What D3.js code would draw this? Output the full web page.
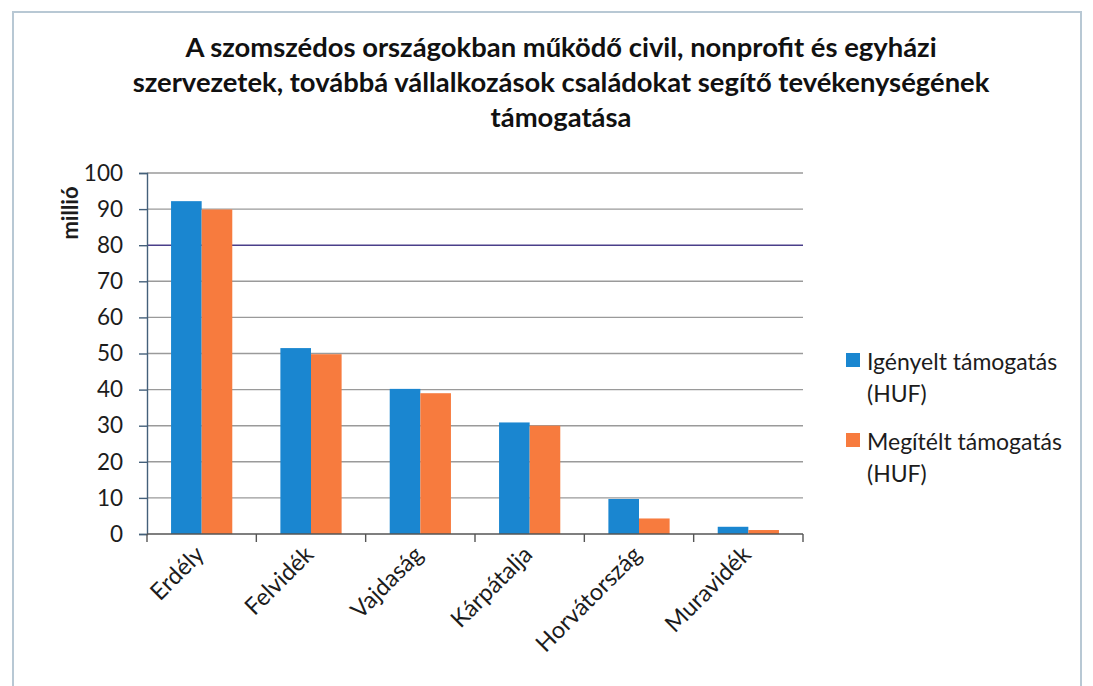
<!DOCTYPE html>
<html><head><meta charset="utf-8">
<script src="https://cdn.jsdelivr.net/npm/d3@7"></script>
<style>body{margin:0;background:#fff}svg{display:block}</style>
</head><body>
<script>
const categories = ["Erdély","Felvidék","Vajdaság","Kárpátalja","Horvátország","Muravidék"];
const igenyelt = [92.2, 51.5, 40.2, 30.9, 9.7, 2.0];
const megitelt = [89.9, 49.8, 39.0, 30.0, 4.3, 1.1];
const seriesNames = ["Igényelt támogatás", "Megítélt támogatás"];
const yTicks = [0,10,20,30,40,50,60,70,80,90,100];
const titleLines = ["A szomszédos országokban működő civil, nonprofit és egyházi","szervezetek, továbbá vállalkozások családokat segítő tevékenységének","támogatása"];

const W=1093,H=686;
const svg=d3.select("body").append("svg").attr("width",W).attr("height",H);
svg.append("rect").attr("x",13).attr("y",12).attr("width",1068).attr("height",700)
  .attr("fill","#fff").attr("stroke","#b8c8d4").attr("stroke-width",2);

const font="Lato, 'Open Sans', sans-serif";
const ink="#1c1c1c";
const colors=["#1a86d0","#f77b3e"];
const m={l:147,r:803,t:173,b:534};
const x=d3.scaleBand().domain(categories).range([m.l,m.r]).paddingInner(0.44).paddingOuter(0.22);
const x1=d3.scaleBand().domain([0,1]).range([0,x.bandwidth()]);
const y=d3.scaleLinear().domain([0,100]).range([m.b,m.t]);

// title
svg.append("g").selectAll("text").data(titleLines).join("text")
  .attr("x",561).attr("y",(d,i)=>57+i*35).attr("text-anchor","middle")
  .attr("font-family",font).attr("font-weight","bold").attr("font-size",27.4).attr("fill","#111").text(d=>d);

// gridlines
svg.append("g").selectAll("line").data(yTicks.filter(d=>d>0)).join("line")
  .attr("x1",m.l).attr("x2",m.r).attr("y1",d=>y(d)).attr("y2",d=>y(d))
  .attr("stroke",d=>d===80?"#4a3f8a":"#9a9a9a").attr("stroke-width",1.4);

// y axis
const ya=svg.append("g").attr("transform",`translate(${m.l},0)`)
  .call(d3.axisLeft(y).tickValues(yTicks).tickSize(8).tickPadding(16));
ya.select(".domain").attr("stroke","#44607a").attr("stroke-width",1.4);
ya.selectAll(".tick line").attr("stroke","#44607a").attr("stroke-width",1.4);
ya.selectAll("text").attr("font-family",font).attr("font-size",22.5).attr("fill",ink);

svg.append("text").attr("transform","translate(78,213) rotate(-90)").attr("text-anchor","middle")
  .attr("font-family",font).attr("font-weight","bold").attr("font-size",22).attr("fill",ink).text("millió");

// bars
const data=categories.map((c,i)=>({c,v:[igenyelt[i],megitelt[i]]}));
const g=svg.append("g");
data.forEach(d=>{
  d.v.forEach((v,j)=>{
    g.append("rect").attr("x",x(d.c)+x1(j)).attr("width",x1.bandwidth())
      .attr("y",y(v)).attr("height",y(0)-y(v)).attr("fill",colors[j]);
  });
});

// x axis
const xa=svg.append("g").attr("transform",`translate(0,${m.b})`);
xa.append("line").attr("x1",m.l).attr("x2",m.r).attr("stroke","#555").attr("stroke-width",1.4);
const bounds=categories.map(c=>x(c)-x.step()*x.paddingInner()/2).concat([m.r]);
xa.selectAll(".tk").data(bounds).join("line").attr("class","tk")
  .attr("x1",d=>d).attr("x2",d=>d).attr("y1",0).attr("y2",8).attr("stroke","#555").attr("stroke-width",1.4);
xa.selectAll(".lab").data(categories).join("text").attr("class","lab")
  .attr("transform",d=>`translate(${x(d)+x.bandwidth()/2+4},${22}) rotate(-45)`)
  .attr("text-anchor","end").attr("font-family",font).attr("font-size",23.5).attr("fill",ink).text(d=>d);

// legend
const lg=svg.append("g");
seriesNames.forEach((s,i)=>{
  const y0=353+i*80;
  lg.append("rect").attr("x",846).attr("y",y0).attr("width",14).attr("height",14).attr("fill",colors[i]);
  lg.append("text").attr("x",867).attr("y",y0+17).attr("font-family",font).attr("font-size",23).attr("fill",ink).text(s);
  lg.append("text").attr("x",867).attr("y",y0+49).attr("font-family",font).attr("font-size",23).attr("fill",ink).text("(HUF)");
});
</script>
</body></html>
